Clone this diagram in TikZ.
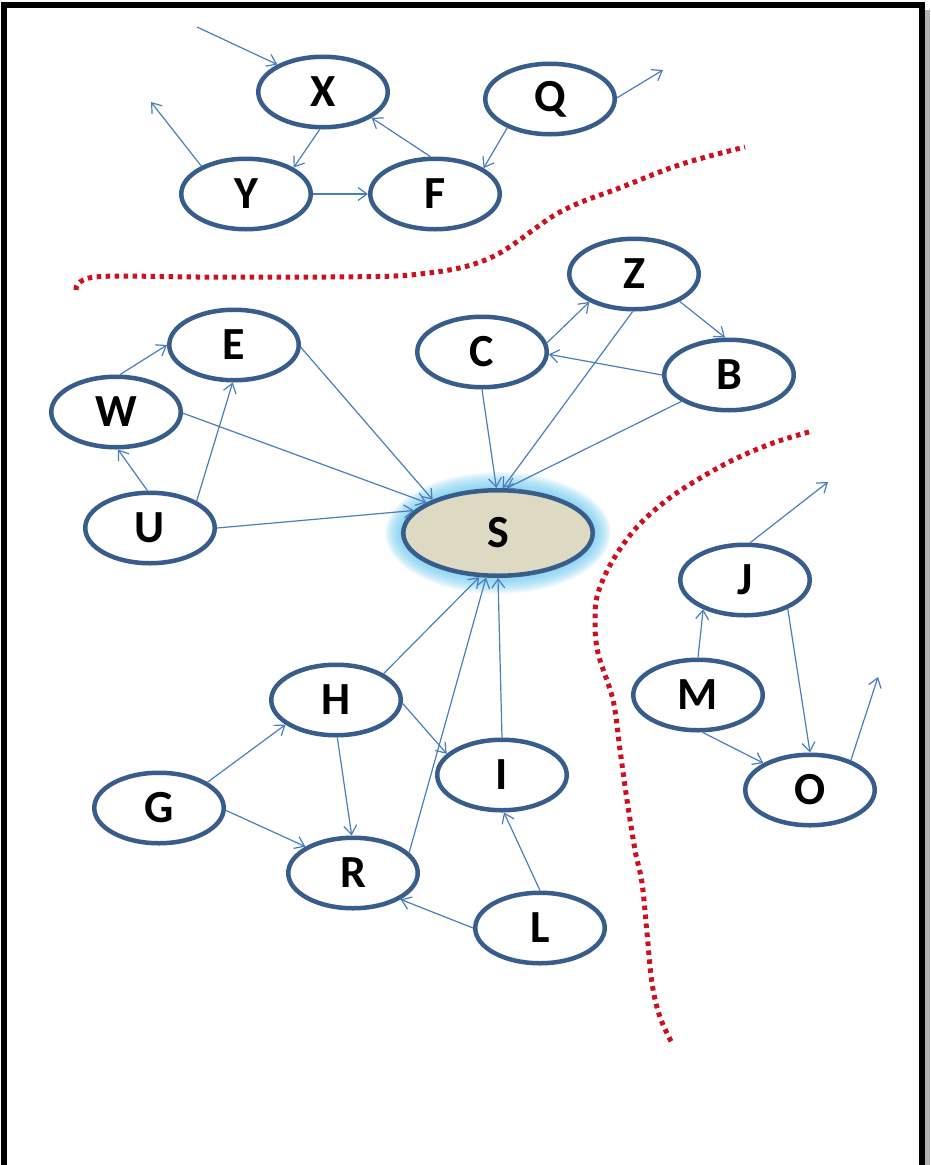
\documentclass[tikz,border=0pt]{standalone}
\usepackage{fontspec}
\setmainfont{Carlito}
\usetikzlibrary{arrows.meta,shapes.geometric,backgrounds}

\definecolor{nodeline}{HTML}{385D8A}
\definecolor{edgeline}{HTML}{4A7EBB}
\definecolor{sfill}{HTML}{DDD9C3}
\definecolor{glowblue}{RGB}{110,200,240}
\definecolor{borderred}{RGB}{204,16,32}

\tikzset{
  vert/.style={ellipse, draw=nodeline, line width=4.5pt, fill=white,
    minimum width=129.5pt, minimum height=70.5pt, inner sep=0pt,
    font=\fontsize{46}{46}\selectfont\bfseries},
  link/.style={draw=edgeline, line width=1.2pt,
    -{Straight Barb[length=9pt,width=13pt]}},
  border/.style={draw=borderred, line width=5pt,
    dash pattern=on 4.5pt off 4.5pt},
}

\begin{document}
\begin{tikzpicture}[x=1pt,y=-1pt]
\useasboundingbox (0,0) rectangle (930,1165);

% frame
\fill[gray!60] (925,10) rectangle (930,1165);
\draw[line width=6pt] (4,1165) -- (4,5) -- (922,5) -- (922,1165);

% boundaries between groups
\draw[border] plot[smooth, tension=0.6] coordinates {
  (76,290) (95,277) (200,277) (330,277) (420,274) (490,258)
  (560,212) (622,187) (682,164) (745,147)};
\draw[border] plot[smooth, tension=0.6] coordinates {
  (809,432) (773,443) (733,460) (697,480) (667,500) (637,527)
  (613,560) (598,593) (595,620) (598,653) (613,700) (620,750)
  (627,800) (635,850) (642,883) (647,933) (652,983) (660,1017) (673,1045)};

% top group
\node[vert] (X) at (323,92) {X};
\node[vert] (Q) at (550,99) {Q};
\node[vert] (Y) at (246,194) {Y};
\node[vert] (F) at (435,194) {F};

% central group
\node[vert] (Z) at (634,274) {Z};
\node[vert] (C) at (482,352) {C};
\node[vert] (B) at (729,375) {B};
\node[vert] (E) at (234,345) {E};
\node[vert] (W) at (116,412) {W};
\node[vert] (U) at (150,528) {U};
\node[vert, fill=sfill, minimum width=189.5pt, minimum height=85.5pt] (S) at (498,533) {S};
\node[vert] (H) at (336,700) {H};
\node[vert] (I) at (502,775) {I};
\node[vert] (G) at (159,808) {G};
\node[vert] (R) at (353,873) {R};
\node[vert] (L) at (540,928) {L};

% right group
\node[vert] (J) at (745,580) {J};
\node[vert] (M) at (698,695) {M};
\node[vert] (O) at (810,790) {O};

% glow around S
\begin{scope}[on background layer]
  \foreach \k in {1,...,16}
    \fill[glowblue, opacity=0.08] (S.center) ellipse [x radius={97+\k}, y radius={45+\k}];
\end{scope}

% loose ends
\coordinate (inX) at (197,27);
\coordinate (outY) at (151,102);
\coordinate (outQ) at (663,70);
\coordinate (outJ) at (828,482);
\coordinate (outO) at (878,677);

% top group links
\draw[link] (inX) -- (X.149);
\draw[link] (X.265) -- (Y.29);
\draw[link] (F.97) -- (X.332);
\draw[link] (Y) -- (F);
\draw[link] (Q.214) -- (F.28);
\draw[link] (Q.1) -- (outQ);
\draw[link] (Y.148) -- (outY);

% central group links
\draw[link] (W.84) -- (E.180);
\draw[link] (U.94) -- (W.273);
\draw[link] (U.30) -- (E.268);
\draw[link] (E.-2) -- (S.153);
\draw[link] (W.-1) -- (S.157);
\draw[link] (U.0) -- (S.165);
\draw[link] (C.270) -- (S.92);
\draw[link] (Z.268) -- (S.84);
\draw[link] (B.209) -- (S.79);
\draw[link] (C.8) -- (Z.212);
\draw[link] (Z.329) -- (B.96);
\draw[link] (B.180) -- (C.-2);

\draw[link] (H.29.5) -- (S.247);
\draw[link] (R.20) -- (S.255);
\draw[link] (I.90) -- (S.270);
\draw[link] (H.-3) -- (I.159);
\draw[link] (H.272) -- (R.92);
\draw[link] (G.28) -- (H.206);
\draw[link] (G.-2) -- (R.151);
\draw[link] (L.180) -- (R.331);
\draw[link] (L.90) -- (I.273);

% right group links
\draw[link] (M.90) -- (J.215);
\draw[link] (J.326) -- (O.90);
\draw[link] (M.277) -- (O.150);
\draw[link] (J.82) -- (outJ);
\draw[link] (O.36) -- (outO);
\end{tikzpicture}
\end{document}
